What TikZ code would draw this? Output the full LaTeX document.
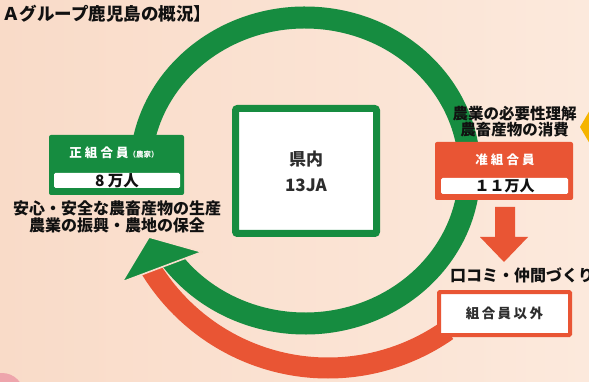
\documentclass[tikz,border=0pt]{standalone}
\usepackage{fontspec}
\setmainfont{Noto Sans CJK JP}
\definecolor{jagreen}{RGB}{22,140,64}
\definecolor{jared}{RGB}{233,85,52}
\definecolor{bgL}{RGB}{249,219,200}
\definecolor{bgR}{RGB}{252,233,220}
\definecolor{bgmid}{RGB}{250,222,205}
\definecolor{ink}{RGB}{17,17,17}
\definecolor{dgray}{RGB}{45,45,45}
\definecolor{gold}{RGB}{245,180,0}
\definecolor{pinkspot}{RGB}{238,165,172}
\begin{document}
\begin{tikzpicture}[x=1pt,y=-1pt,
  gbox/.style={fill=jagreen, rounded corners=2pt, minimum width=135pt, minimum height=60pt, inner sep=0pt},
  rbox/.style={fill=jared, rounded corners=2pt, minimum width=138pt, minimum height=58pt, inner sep=0pt},
  wbox/.style={fill=white, rounded corners=1.5pt, inner sep=0pt, text=ink, font=\bfseries\fontsize{15.5}{15.5}\selectfont},
  boxtitle/.style={text=white, inner sep=0pt, font=\bfseries\fontsize{12.5}{12.5}\selectfont\addfontfeatures{LetterSpace=25}},
  caption/.style={text=ink, align=center, inner sep=0pt, font=\bfseries\fontsize{16}{17}\selectfont},
  band/.style={line width=#1}
]
\useasboundingbox (0,0) rectangle (589,382);
\clip (0,0) rectangle (589,382);
\shade[left color=bgL, right color=bgR] (0,0) rectangle (589,382);
\fill[pinkspot] (2,395) circle (22);

% red band
\draw[jared, band=21pt] (328,160) ++(150:208) arc[start angle=150, end angle=55, radius=208];
% green ring
\draw[jagreen, band=22pt] (305,170.5) ++(184:164.5 and 153) arc[start angle=184, end angle=505, x radius=164.5, y radius=153];
% green arrowhead
\fill[jagreen, draw=bgmid, line width=1.6pt, line join=round] (122,282) -- (202,252) -- (149,237) -- cycle;

% title
\node[anchor=west, inner sep=0pt, text=ink, font=\bfseries\fontsize{17.5}{18}\selectfont] (title) at (2,14) {Ａグループ鹿児島の概況】};

% left box
\node[gbox] (sei) at (116.5,165) {};
\node[boxtitle] (seit) at (114,153) {正組合員{\fontsize{7.5}{8}\selectfont\addfontfeatures{LetterSpace=0}（農家）}};
\node[wbox, minimum width=126pt, minimum height=15pt] (seinum) at (117,180.5) {8 万人};
\node[caption] (seicap) at (117,216.5) {安心・安全な農畜産物の生産\\農業の振興・農地の保全};

% center box
\node[draw=jagreen, line width=7pt, fill=white, rounded corners=2pt, minimum width=141pt, minimum height=125pt, inner sep=0pt,
      align=center, text=dgray, font=\bfseries\fontsize{17}{26}\selectfont] (ken) at (306,171) {県内\\13JA};

% right box
\node[caption, font=\bfseries\fontsize{15.5}{16}\selectfont] (juncap) at (514.5,122) {農業の必要性理解\\農畜産物の消費};
\node[rbox] (jun) at (504,171) {};
\node[boxtitle] (junt) at (505,160) {准組合員};
\node[wbox, minimum width=127pt, minimum height=16pt, font=\bfseries\fontsize{15}{15}\selectfont] (junnum) at (504.5,186) {１１万人};

% down arrow
\fill[jared] (495,207) -- (515,207) -- (515,237) -- (528,237) -- (504,262) -- (480,237) -- (495,237) -- cycle;
\node[anchor=west, inner sep=0pt, text=ink, font=\bfseries\fontsize{16}{16}\selectfont] (kuchi) at (450,275) {口コミ・仲間づくり};

% bottom box
\node[draw=jared, line width=4pt, fill=white, rounded corners=1pt, minimum width=131pt, minimum height=43pt, inner sep=0pt,
      text=dgray, font=\bfseries\fontsize{13.5}{14}\selectfont\addfontfeatures{LetterSpace=18}] (gai) at (504.5,313.5) {組合員以外};

% gold shape at the edge
\fill[gold] (590,110) -- (580,127) -- (590,144) -- cycle;
\end{tikzpicture}
\end{document}
